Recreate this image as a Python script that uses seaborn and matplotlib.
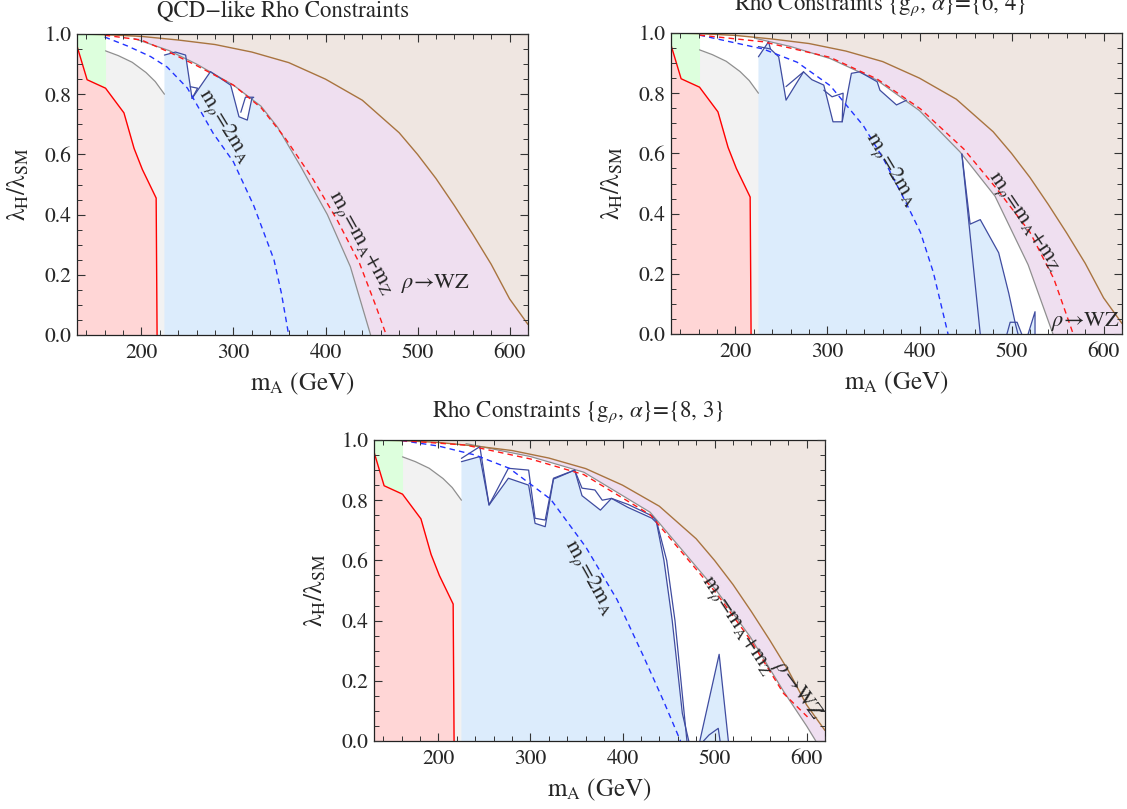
import numpy as np
import matplotlib
matplotlib.use("Agg")
import matplotlib.pyplot as plt
import seaborn as sns
from matplotlib.ticker import MultipleLocator

sns.set_style("ticks")
plt.rcParams['font.family'] = ['STIXGeneral', 'DejaVu Serif']
plt.rcParams['mathtext.fontset'] = 'stix'

# ---- curves shared by all three panels ----
brown_x = [130, 160, 200, 240, 280, 320, 360, 400, 440, 480, 500, 520, 540, 560, 580, 600, 620]
brown_y = [1.0, 0.998, 0.992, 0.98, 0.965, 0.94, 0.905, 0.85, 0.78, 0.672, 0.6, 0.52, 0.43, 0.335, 0.235, 0.12, 0.035]

red_x = [130, 141, 161, 181, 192, 201, 216, 217]
red_y = [0.96, 0.848, 0.82, 0.738, 0.62, 0.55, 0.455, 0.0]

gray_x = [161, 175, 190, 205, 215, 225]
gray_y = [0.944, 0.928, 0.906, 0.872, 0.842, 0.80]

blue_start = 225

# ---- panel 1: QCD-like ----
p1_rd_x = [160, 200, 230, 260, 300, 330, 356, 387, 413, 437, 455, 466]
p1_rd_y = [0.996, 0.98, 0.94, 0.895, 0.83, 0.755, 0.655, 0.515, 0.38, 0.238, 0.094, 0.0]
p1_bd_x = [160, 185, 210, 228, 250, 278, 300, 322, 344, 352, 360]
p1_bd_y = [0.99, 0.96, 0.925, 0.89, 0.82, 0.67, 0.575, 0.43, 0.25, 0.14, 0.0]
p1_pb_x = [192, 230, 260, 300, 330, 348, 373, 402, 427, 449]
p1_pb_y = [0.985, 0.945, 0.9, 0.83, 0.76, 0.69, 0.56, 0.40, 0.227, 0.0]
p1_jag_x = [225, 237, 248, 255, 275, 297, 306, 315, 320, 322]
p1_jag_y = [0.93, 0.94, 0.93, 0.786, 0.875, 0.83, 0.725, 0.714, 0.786, 0.79]
p1_jag2_x = [253, 261, 255]
p1_jag2_y = [0.825, 0.82, 0.786]
p1_jag3_x = [308, 313, 321]
p1_jag3_y = [0.74, 0.79, 0.79]

# ---- panel 2: {6, 4} ----
p2_rd_x = [161, 230, 303, 354, 401, 448, 484, 520, 546, 567]
p2_rd_y = [0.993, 0.971, 0.919, 0.847, 0.748, 0.615, 0.482, 0.338, 0.183, 0.0]
p2_bd_x = [161, 230, 267, 303, 339, 361, 386, 401, 415, 431]
p2_bd_y = [0.993, 0.947, 0.903, 0.825, 0.692, 0.581, 0.432, 0.338, 0.205, 0.0]
p2_pb_x = [222, 260, 303, 354, 400, 420, 444, 482, 518, 545]
p2_pb_y = [0.982, 0.955, 0.915, 0.843, 0.742, 0.68, 0.605, 0.458, 0.23, 0.0]
p2_jag_x = [225, 236, 238, 247, 255, 274, 283, 296, 306, 316, 326, 335, 354, 357, 375, 386]
p2_jag_y = [0.921, 0.971, 0.947, 0.921, 0.777, 0.871, 0.845, 0.827, 0.705, 0.705, 0.866, 0.871, 0.838, 0.81, 0.761, 0.777]
p2_jag2_x = [225, 238]
p2_jag2_y = [0.955, 0.947]
p2_jag3_x = [255, 274]
p2_jag3_y = [0.822, 0.871]
p2_jag4_x = [296, 305, 317, 316]
p2_jag4_y = [0.81, 0.788, 0.80, 0.705]
p2_drop_x = [446, 455, 466, 486, 497, 504, 507]
p2_drop_y = [0.598, 0.365, 0.38, 0.27, 0.135, 0.036, 0.0]
p2_drop2_x = [446, 466]
p2_drop2_y = [0.598, 0.0]
p2_sp1_x = [495, 498.5, 506, 511]
p2_sp1_y = [0.0, 0.039, 0.039, 0.0]
p2_sp2_x = [518, 525.5, 525.5]
p2_sp2_y = [0.0, 0.074, 0.0]

# ---- panel 3: {8, 3} ----
p3_rd_x = [160, 230, 300, 358, 430, 502, 539, 575, 601]
p3_rd_y = [0.998, 0.983, 0.937, 0.885, 0.752, 0.491, 0.336, 0.158, 0.08]
p3_bd_x = [160, 200, 240, 277, 322, 360, 394, 423, 445, 463]
p3_bd_y = [0.998, 0.98, 0.95, 0.906, 0.803, 0.645, 0.47, 0.28, 0.13, 0.0]
p3_pb_x = [230, 300, 358, 430, 502, 539, 575, 600, 610]
p3_pb_y = [0.988, 0.945, 0.893, 0.76, 0.50, 0.345, 0.165, 0.05, 0.0]
p3_jag_x = [225, 245, 255, 276, 298, 305, 316, 325, 348, 356, 376, 388, 406, 432, 437]
p3_jag_y = [0.928, 0.945, 0.784, 0.873, 0.85, 0.723, 0.712, 0.87, 0.90, 0.815, 0.767, 0.806, 0.776, 0.74, 0.725]
p3_jagup_x = [225, 245, 255, 276, 298, 305, 316, 325, 348, 356, 370, 378, 388, 406, 432, 437]
p3_jagup_y = [0.939, 0.978, 0.784, 0.906, 0.90, 0.74, 0.734, 0.873, 0.90, 0.84, 0.834, 0.80, 0.806, 0.786, 0.748, 0.73]
p3_drop_x = [437, 445, 454, 465, 472]
p3_drop_y = [0.725, 0.60, 0.40, 0.092, 0.0]
p3_drop2_x = [437, 448, 457, 467, 470]
p3_drop2_y = [0.73, 0.60, 0.40, 0.092, 0.0]
p3_sp1_x = [484, 505, 515]
p3_sp1_y = [0.0, 0.288, 0.0]
p3_sp2_x = [488, 494, 504, 506]
p3_sp2_y = [0.0, 0.02, 0.042, 0.0]

C_BG = "#efe6e1"
C_PURPLE = "#efdff0"
C_BLUE = "#dcecfc"
C_GRAY = "#f2f2f2"
C_RED = "#ffd6d6"
C_GREEN = "#ddffdd"
L_BROWN = "#a8743f"
L_JAG = "#3f4ca0"
L_BD = "#2233ff"
L_RD = "#ff1a1a"
L_GRAY = "#8f8f8f"


def line(ax, x, y, color, lw=1.0, ls="-"):
    sns.lineplot(x=x, y=y, ax=ax, color=color, lw=lw, linestyle=ls,
                 sort=False, estimator=None, legend=False)


def draw_panel(ax, rd_x, rd_y, bd_x, bd_y, pb_x, pb_y, jag_x, jag_y,
               drop_x, drop_y, extra_lines, spikes):
    ax.set_facecolor("white")
    # region above the brown curve
    ax.fill_between(brown_x, brown_y, 1.0, color=C_BG, lw=0)
    # rho -> WZ region between boundary and brown curve
    bx = [b for b in brown_x if b > pb_x[0]]
    by = [brown_y[i] for i, b in enumerate(brown_x) if b > pb_x[0]]
    ax.fill(list(pb_x) + [620] + bx[::-1], list(pb_y) + [0.0] + by[::-1],
            color=C_PURPLE, lw=0)
    # gray, red, green regions
    ax.fill_between(gray_x, 0, gray_y, color=C_GRAY, lw=0)
    ax.fill_between(red_x, 0, red_y, color=C_RED, lw=0)
    ax.fill_between(red_x[:3], red_y[:3], 1.0, color=C_GREEN, lw=0)
    # blue allowed region
    end = drop_x[0] if drop_x else 1e9
    mid = [(x, y) for x, y in zip(pb_x, pb_y) if jag_x[-1] < x < end]
    top_x = list(jag_x) + [m[0] for m in mid] + list(drop_x)
    top_y = list(jag_y) + [m[1] for m in mid] + list(drop_y)
    ax.fill(top_x + [top_x[-1], blue_start], top_y + [0.0, 0.0],
            color=C_BLUE, lw=0)
    for sx, sy in spikes:
        ax.fill(sx, sy, color=C_BLUE, lw=0)

    # lines
    line(ax, gray_x, gray_y, L_GRAY, 0.9)
    line(ax, pb_x, pb_y, L_GRAY, 0.9)
    line(ax, brown_x, brown_y, L_BROWN, 1.0)
    line(ax, red_x[:3], [1.0, 1.0, 1.0], "#22cc22", 0.8)
    line(ax, red_x, red_y, "#ff0000", 1.0)
    line(ax, jag_x, jag_y, L_JAG, 0.9)
    if drop_x:
        line(ax, drop_x, drop_y, L_JAG, 0.9)
    for ex, ey in extra_lines:
        line(ax, ex, ey, L_JAG, 0.9)
    for sx, sy in spikes:
        line(ax, sx, sy, L_JAG, 0.9)
    line(ax, bd_x, bd_y, L_BD, 1.0, (0, (4, 3)))
    line(ax, rd_x, rd_y, L_RD, 1.0, (0, (4, 3)))

    ax.set_axisbelow(False)
    ax.set_xlim(130, 620)
    ax.set_ylim(0, 1.0)
    ax.xaxis.set_major_locator(MultipleLocator(100))
    ax.xaxis.set_minor_locator(MultipleLocator(20))
    ax.yaxis.set_major_locator(MultipleLocator(0.2))
    ax.yaxis.set_minor_locator(MultipleLocator(0.05))
    ax.yaxis.set_major_formatter(matplotlib.ticker.FormatStrFormatter("%.1f"))
    ax.tick_params(which="both", direction="in", top=True, right=True,
                   labelsize=15.5, color="#333333")
    ax.tick_params(axis="x", which="major", pad=6)
    ax.tick_params(axis="y", which="major", pad=4)
    ax.tick_params(which="major", length=6, width=0.8)
    ax.tick_params(which="minor", length=3.5, width=0.7)
    for s in ax.spines.values():
        s.set_linewidth(0.9)
        s.set_color("#222222")
    ax.set_xlabel("m$_\\mathregular{A}$ (GeV)", fontsize=18)
    ax.set_ylabel("λ$_\\mathregular{H}$/λ$_\\mathregular{SM}$", fontsize=18)
    ax.yaxis.set_label_coords(-0.10, 0.5)
    ax.xaxis.set_label_coords(0.5, -0.12)


fig = plt.figure(figsize=(11.27, 8.09), dpi=100)
W, H = 1127, 809
ax1 = fig.add_axes([77 / W, 1 - 335 / H, 451 / W, 301 / H])
ax2 = fig.add_axes([671 / W, 1 - 334 / H, 451 / W, 301 / H])
ax3 = fig.add_axes([374 / W, 1 - 741 / H, 451 / W, 301 / H])

draw_panel(ax1, p1_rd_x, p1_rd_y, p1_bd_x, p1_bd_y, p1_pb_x, p1_pb_y,
           p1_jag_x, p1_jag_y, [], [],
           [(p1_jag2_x, p1_jag2_y), (p1_jag3_x, p1_jag3_y)], [])
draw_panel(ax2, p2_rd_x, p2_rd_y, p2_bd_x, p2_bd_y, p2_pb_x, p2_pb_y,
           p2_jag_x, p2_jag_y, p2_drop_x, p2_drop_y,
           [(p2_jag2_x, p2_jag2_y), (p2_jag3_x, p2_jag3_y),
            (p2_jag4_x, p2_jag4_y), (p2_drop2_x, p2_drop2_y)],
           [(p2_sp1_x, p2_sp1_y), (p2_sp2_x, p2_sp2_y)])
draw_panel(ax3, p3_rd_x, p3_rd_y, p3_bd_x, p3_bd_y, p3_pb_x, p3_pb_y,
           p3_jag_x, p3_jag_y, p3_drop_x, p3_drop_y,
           [(p3_jagup_x, p3_jagup_y), (p3_drop2_x, p3_drop2_y)],
           [(p3_sp1_x, p3_sp1_y), (p3_sp2_x, p3_sp2_y)])

# curve labels
lab2m = "m$_{\\rho}$=2m$_\\mathregular{A}$"
labmz = "m$_{\\rho}$=m$_\\mathregular{A}$+m$_\\mathregular{Z}$"
labwz = "$\\rho$→WZ"
kw = dict(fontsize=16, ha="center", va="center", rotation_mode="anchor")
ax1.text(290, 0.694, lab2m, rotation=-58.6, **kw)
ax1.text(437, 0.304, labmz, rotation=-61, **kw)
ax1.text(520, 0.17, labwz, **kw)
ax2.text(369, 0.545, lab2m, rotation=-59, **kw)
ax2.text(513, 0.373, labmz, rotation=-56, **kw)
ax2.text(580, 0.043, labwz, **kw)
ax3.text(363, 0.543, lab2m, rotation=-61, **kw)
ax3.text(523, 0.38, labmz, rotation=-56.5, **kw)
ax3.text(590, 0.17, labwz, rotation=-54, **kw)

# titles
fig.text(283 / W, 1 - 12 / H, "QCD\u2212like Rho Constraints", fontsize=16.5,
         ha="center", va="center")
fig.text(880 / W, 1 - 4 / H, "Rho Constraints {g$_{\\rho}$, $\\alpha$}={6, 4}",
         fontsize=16.5, ha="center", va="center")
fig.text(578 / W, 1 - 412 / H, "Rho Constraints {g$_{\\rho}$, $\\alpha$}={8, 3}",
         fontsize=16.5, ha="center", va="center")

fig.savefig("out.png", dpi=100)
